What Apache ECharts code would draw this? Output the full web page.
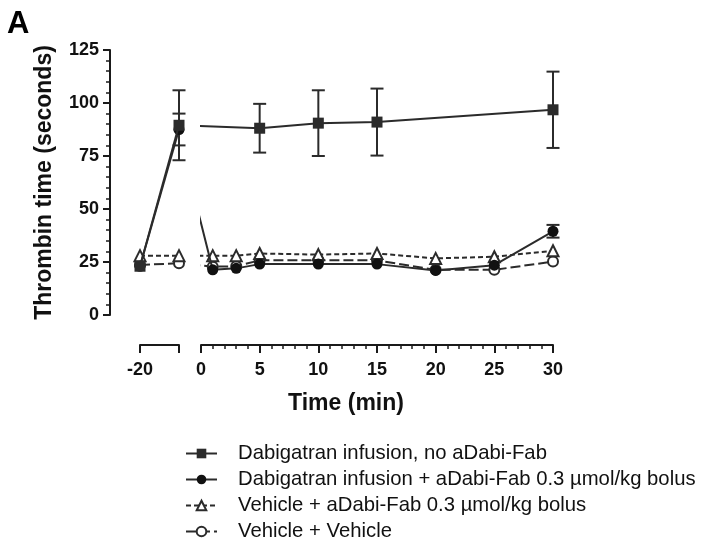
<!DOCTYPE html>
<html>
<head>
<meta charset="utf-8">
<script src="https://cdn.jsdelivr.net/npm/echarts@6/dist/echarts.min.js"></script>
<style>
  html, body { margin: 0; padding: 0; background: #fff; }
  #chart { width: 702px; height: 556px; }
</style>
</head>
<body>
<div id="chart"></div>
<script>
// Sampling times (min): baseline at -20, end of infusion at -2, then after the bolus at 0.
const times = [-20, -2, 1, 3, 5, 10, 15, 20, 25, 30];

const groupNames = [
  'Dabigatran infusion, no aDabi-Fab',
  'Dabigatran infusion + aDabi-Fab 0.3 \u00b5mol/kg bolus',
  'Vehicle + aDabi-Fab 0.3 \u00b5mol/kg bolus',
  'Vehicle + Vehicle'
];

// Thrombin time (seconds), mean and SD per sampling time (null = not sampled / not shown)
const dabiNoFab      = [23, 89.5, null, null, 88.1, 90.5, 91.0, null, null, 96.8];
const dabiNoFabSD    = [null, 16.5, null, null, 11.5, 15.5, 15.8, null, null, 18.0];
const dabiFab        = [23, 87.5, 21.3, 22.0, 24.0, 24.0, 24.0, 21.0, 23.5, 39.5];
const dabiFabSD      = [null, 7.5, null, null, null, null, null, null, null, 3.0];
const vehicleFab     = [28, 28.0, 28.0, 28.0, 29.0, 28.5, 29.0, 26.7, 27.5, 30.3];
const vehicleVehicle = [23.6, 24.4, 22.8, 23.0, 25.8, 25.8, 25.8, 21.3, 21.3, 25.2];

// Axis ticks
const yMin = 0, yMax = 125, yStep = 25;
const preMin = -20, preMax = -2;
const postMin = 0, postMax = 30, postStep = 5;

const INK = '#2b2b2b';
const FONT = '"Liberation Sans", Arial, sans-serif';

function pairs(values) {
  const out = [];
  times.forEach((t, i) => { if (values[i] != null) out.push([t, values[i]]); });
  return out;
}
function errPairs(values, sds, keep) {
  const out = [];
  times.forEach((t, i) => {
    if (values[i] != null && sds[i] != null && keep(t)) out.push([t, values[i] - sds[i], values[i] + sds[i]]);
  });
  return out;
}

const styles = [
  { values: dabiNoFab, symbol: 'rect', size: 11, fill: INK, border: INK, borderW: 0, dash: 'solid', z: 6 },
  { values: dabiFab, symbol: 'circle', size: 11, fill: '#111', border: '#111', borderW: 0, dash: 'solid', z: 5 },
  { values: vehicleFab, symbol: 'triangle', size: 11, fill: '#fff', border: INK, borderW: 2, dash: [5, 3], z: 4 },
  { values: vehicleVehicle, symbol: 'circle', size: 10, fill: '#fff', border: INK, borderW: 2, dash: [10, 4], z: 3 }
];

const series = [];
styles.forEach((s, k) => {
  // grid 0: pre-bolus segment, grid 1: post-bolus segment (line into the gap is clipped)
  [0, 1].forEach(g => {
    const data = g === 0 ? pairs(s.values).filter(p => p[0] <= preMax) : pairs(s.values);
    series.push({
      type: 'line',
      name: groupNames[k],
      xAxisIndex: g,
      yAxisIndex: g,
      data: data,
      clip: true,
      symbol: s.symbol,
      symbolSize: s.size,
      showAllSymbol: true,
      lineStyle: { color: INK, width: 2, type: s.dash },
      itemStyle: { color: s.fill, borderColor: s.border, borderWidth: s.borderW },
      emphasis: { disabled: true },
      z: s.z
    });
  });
});

function errorBarSeries(values, sds, g) {
  const keep = g === 0 ? (t => t <= preMax) : (t => t >= postMin);
  return {
    type: 'custom',
    xAxisIndex: g,
    yAxisIndex: g,
    data: errPairs(values, sds, keep),
    encode: { x: 0, y: [1, 2] },
    z: 2,
    renderItem: function (params, api) {
      const x = api.value(0);
      const lo = api.coord([x, api.value(1)]);
      const hi = api.coord([x, api.value(2)]);
      const w = 6.5;
      const st = { stroke: INK, lineWidth: 2 };
      return {
        type: 'group',
        children: [
          { type: 'line', shape: { x1: lo[0], y1: lo[1], x2: hi[0], y2: hi[1] }, style: st },
          { type: 'line', shape: { x1: hi[0] - w, y1: hi[1], x2: hi[0] + w, y2: hi[1] }, style: st },
          { type: 'line', shape: { x1: lo[0] - w, y1: lo[1], x2: lo[0] + w, y2: lo[1] }, style: st }
        ]
      };
    }
  };
}
[0, 1].forEach(g => {
  series.push(errorBarSeries(dabiNoFab, dabiNoFabSD, g));
  series.push(errorBarSeries(dabiFab, dabiFabSD, g));
});

const axisLineStyle = { color: '#1a1a1a', width: 2 };
const labelStyle = { color: '#111', fontFamily: FONT, fontWeight: 'bold', fontSize: 18 };

const chart = echarts.init(document.getElementById('chart'), null, { renderer: 'canvas' });
chart.setOption({
  animation: false,
  backgroundColor: '#fff',
  textStyle: { fontFamily: FONT },
  grid: [
    { left: 140, top: 50, width: 39, height: 265 },
    { left: 201, top: 50, width: 352, height: 265 }
  ],
  xAxis: [
    {
      type: 'value', gridIndex: 0, min: preMin, max: preMax, interval: preMax - preMin,
      offset: 30,
      axisLine: { show: true, onZero: false, lineStyle: axisLineStyle },
      axisTick: { show: true, length: 8, lineStyle: { width: 2, color: '#1a1a1a' } },
      axisLabel: Object.assign({ margin: 16, formatter: v => (v === preMin ? String(v) : '') }, labelStyle),
      splitLine: { show: false }
    },
    {
      type: 'value', gridIndex: 1, min: postMin, max: postMax, interval: postStep,
      offset: 30,
      axisLine: { show: true, onZero: false, lineStyle: axisLineStyle },
      axisTick: { show: true, length: 8, lineStyle: { width: 2, color: '#1a1a1a' } },
      minorTick: { show: true, splitNumber: 5, length: 4, lineStyle: { width: 1.5, color: '#1a1a1a' } },
      axisLabel: Object.assign({ margin: 16 }, labelStyle),
      splitLine: { show: false }
    }
  ],
  yAxis: [
    {
      type: 'value', gridIndex: 0, min: yMin, max: yMax, interval: yStep,
      offset: 30,
      name: 'Thrombin time (seconds)',
      nameLocation: 'middle',
      nameGap: 54,
      nameTextStyle: { color: '#111', fontFamily: FONT, fontWeight: 'bold', fontSize: 23 },
      axisLine: { show: true, onZero: false, lineStyle: axisLineStyle },
      axisTick: { show: true, length: 7, lineStyle: { width: 2, color: '#1a1a1a' } },
      minorTick: { show: true, splitNumber: 5, length: 4, lineStyle: { width: 1.5, color: '#1a1a1a' } },
      axisLabel: Object.assign({ margin: 11 }, labelStyle),
      splitLine: { show: false }
    },
    {
      type: 'value', gridIndex: 1, min: yMin, max: yMax, interval: yStep,
      show: false
    }
  ],
  legend: {
    data: groupNames,
    orient: 'vertical',
    left: 185,
    top: 443,
    padding: 0,
    itemWidth: 31,
    itemHeight: 12,
    itemGap: 5,
    selectedMode: false,
    textStyle: { color: '#111', fontFamily: FONT, fontSize: 20.3, lineHeight: 21, padding: [0, 0, 0, 16] }
  },
  graphic: [
    {
      type: 'text', left: 7, top: 9,
      style: { text: 'A', fill: '#000', font: 'bold 31px ' + FONT }
    },
    {
      type: 'text', x: 346, y: 404,
      style: { text: 'Time (min)', fill: '#111', font: 'bold 23px ' + FONT, textAlign: 'center', textVerticalAlign: 'middle' }
    }
  ],
  series: series
});
</script>
</body>
</html>
